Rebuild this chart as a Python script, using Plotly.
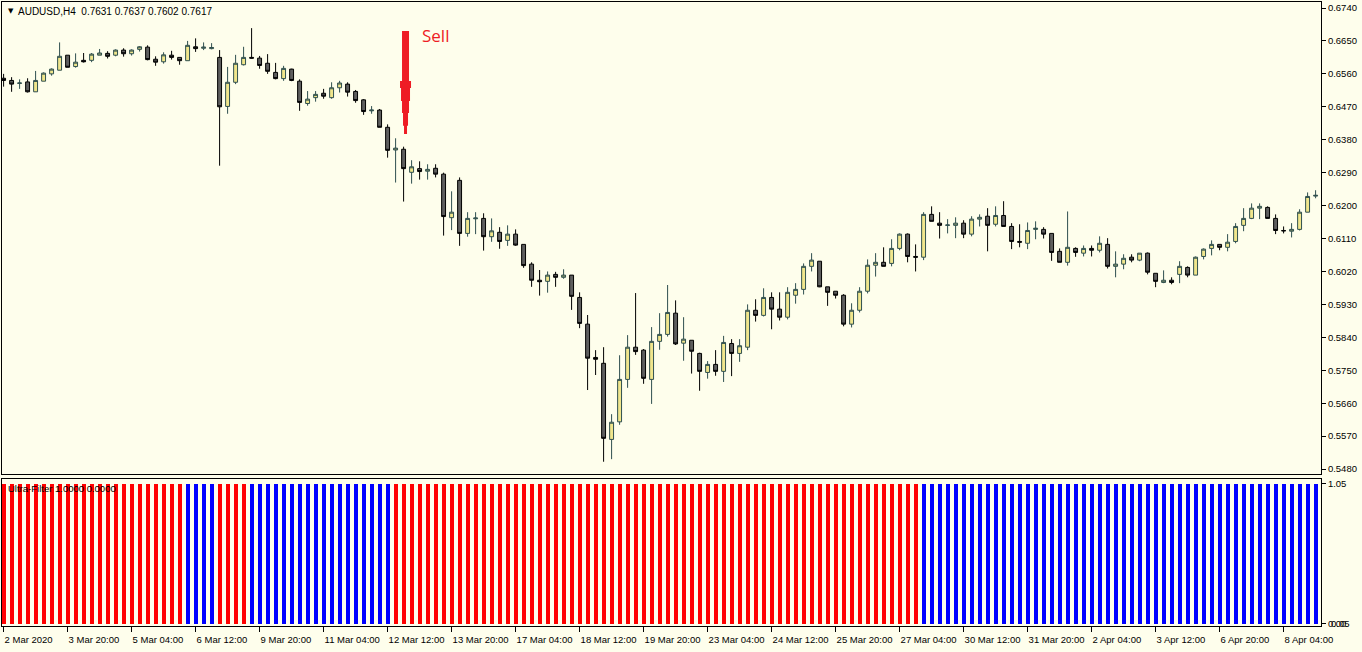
import plotly.graph_objects as go

# ---------------- data ----------------
OPEN = [0.6548, 0.6542, 0.6534, 0.6538, 0.6511, 0.6540, 0.6560, 0.6570, 0.6611, 0.6580,
        0.6597, 0.6597, 0.6611, 0.6616, 0.6611, 0.6625, 0.6615, 0.6627, 0.6633, 0.6600,
        0.6593, 0.6611, 0.6605, 0.6596, 0.6634, 0.6630, 0.6629, 0.6605, 0.6471, 0.6537,
        0.6585, 0.6605, 0.6603, 0.6589, 0.6564, 0.6547, 0.6573, 0.6540, 0.6479, 0.6495,
        0.6507, 0.6495, 0.6522, 0.6532, 0.6512, 0.6489, 0.6459, 0.6461, 0.6414, 0.6352,
        0.6354, 0.6291, 0.6301, 0.6294, 0.6302, 0.6286, 0.6167, 0.6269, 0.6124, 0.6164,
        0.6165, 0.6115, 0.6127, 0.6105, 0.6122, 0.6094, 0.6040, 0.5996, 0.5993, 0.6012,
        0.6004, 0.6010, 0.5949, 0.5876, 0.5785, 0.5769, 0.5561, 0.5609, 0.5725, 0.5813,
        0.5805, 0.5725, 0.5829, 0.5848, 0.5906, 0.5824, 0.5832, 0.5796, 0.5744, 0.5766,
        0.5747, 0.5823, 0.5796, 0.5813, 0.5914, 0.5900, 0.5949, 0.5917, 0.5895, 0.5955,
        0.5971, 0.6034, 0.6048, 0.5978, 0.5966, 0.5955, 0.5876, 0.5914, 0.5966, 0.6037,
        0.6045, 0.6042, 0.6083, 0.6122, 0.6061, 0.6059, 0.6176, 0.6152, 0.6146, 0.6146,
        0.6152, 0.6122, 0.6163, 0.6171, 0.6149, 0.6173, 0.6143, 0.6102, 0.6097, 0.6135,
        0.6135, 0.6124, 0.6075, 0.6045, 0.6083, 0.6070, 0.6083, 0.6078, 0.6094, 0.6034,
        0.6040, 0.6059, 0.6051, 0.6070, 0.6015, 0.5990, 0.5996, 0.6012, 0.6031, 0.6010,
        0.6061, 0.6083, 0.6094, 0.6086, 0.6102, 0.6146, 0.6165, 0.6193, 0.6195, 0.6165,
        0.6132, 0.6130, 0.6135, 0.6182, 0.6226]
HIGH = [0.6560, 0.6551, 0.6545, 0.6548, 0.6568, 0.6564, 0.6575, 0.6646, 0.6611, 0.6616,
        0.6617, 0.6617, 0.6628, 0.6622, 0.6627, 0.6630, 0.6627, 0.6636, 0.6638, 0.6608,
        0.6619, 0.6623, 0.6605, 0.6650, 0.6657, 0.6646, 0.6644, 0.6625, 0.6579, 0.6612,
        0.6634, 0.6685, 0.6609, 0.6614, 0.6590, 0.6582, 0.6574, 0.6545, 0.6513, 0.6513,
        0.6519, 0.6537, 0.6541, 0.6537, 0.6516, 0.6491, 0.6472, 0.6464, 0.6422, 0.6384,
        0.6361, 0.6324, 0.6321, 0.6313, 0.6313, 0.6290, 0.6239, 0.6277, 0.6182, 0.6182,
        0.6179, 0.6165, 0.6141, 0.6146, 0.6135, 0.6094, 0.6045, 0.6024, 0.6020, 0.6019,
        0.6026, 0.6010, 0.5963, 0.5901, 0.5805, 0.5813, 0.5630, 0.5791, 0.5846, 0.5961,
        0.5808, 0.5868, 0.5906, 0.5983, 0.5941, 0.5895, 0.5832, 0.5798, 0.5775, 0.5805,
        0.5844, 0.5835, 0.5835, 0.5930, 0.5944, 0.5974, 0.5963, 0.5963, 0.5977, 0.5988,
        0.6042, 0.6070, 0.6048, 0.5978, 0.5966, 0.5958, 0.5933, 0.5977, 0.6053, 0.6070,
        0.6086, 0.6108, 0.6124, 0.6124, 0.6094, 0.6182, 0.6198, 0.6182, 0.6163, 0.6168,
        0.6160, 0.6171, 0.6176, 0.6193, 0.6198, 0.6212, 0.6152, 0.6149, 0.6154, 0.6157,
        0.6141, 0.6124, 0.6083, 0.6184, 0.6086, 0.6091, 0.6091, 0.6116, 0.6111, 0.6075,
        0.6067, 0.6067, 0.6070, 0.6072, 0.6015, 0.6023, 0.6004, 0.6048, 0.6034, 0.6061,
        0.6083, 0.6105, 0.6094, 0.6122, 0.6152, 0.6193, 0.6206, 0.6206, 0.6198, 0.6176,
        0.6143, 0.6152, 0.6190, 0.6236, 0.6242]
LOW = [0.6525, 0.6511, 0.6519, 0.6509, 0.6511, 0.6540, 0.6555, 0.6570, 0.6578, 0.6577,
       0.6591, 0.6592, 0.6611, 0.6602, 0.6608, 0.6607, 0.6610, 0.6621, 0.6597, 0.6582,
       0.6588, 0.6599, 0.6585, 0.6596, 0.6620, 0.6625, 0.6627, 0.6309, 0.6451, 0.6532,
       0.6583, 0.6602, 0.6574, 0.6560, 0.6545, 0.6541, 0.6540, 0.6459, 0.6473, 0.6484,
       0.6492, 0.6492, 0.6509, 0.6498, 0.6481, 0.6448, 0.6451, 0.6414, 0.6331, 0.6263,
       0.6211, 0.6260, 0.6271, 0.6271, 0.6277, 0.6118, 0.6133, 0.6090, 0.6115, 0.6122,
       0.6077, 0.6101, 0.6082, 0.6090, 0.6090, 0.6030, 0.5978, 0.5954, 0.5962, 0.5978,
       0.6000, 0.5915, 0.5865, 0.5696, 0.5737, 0.5500, 0.5507, 0.5601, 0.5702, 0.5792,
       0.5713, 0.5658, 0.5806, 0.5842, 0.5819, 0.5776, 0.5741, 0.5694, 0.5727, 0.5735,
       0.5718, 0.5734, 0.5773, 0.5805, 0.5883, 0.5897, 0.5862, 0.5886, 0.5889, 0.5932,
       0.5957, 0.6020, 0.5977, 0.5926, 0.5946, 0.5870, 0.5867, 0.5908, 0.5960, 0.6006,
       0.6034, 0.6034, 0.6078, 0.6045, 0.6020, 0.6051, 0.6157, 0.6110, 0.6124, 0.6111,
       0.6111, 0.6116, 0.6143, 0.6075, 0.6143, 0.6143, 0.6081, 0.6086, 0.6081, 0.6108,
       0.6110, 0.6049, 0.6045, 0.6036, 0.6060, 0.6061, 0.6061, 0.6072, 0.6028, 0.6004,
       0.6026, 0.6045, 0.6048, 0.6012, 0.5977, 0.5988, 0.5985, 0.5988, 0.6004, 0.6010,
       0.6053, 0.6064, 0.6078, 0.6075, 0.6097, 0.6130, 0.6163, 0.6163, 0.6165, 0.6122,
       0.6124, 0.6113, 0.6132, 0.6182, 0.6220]
CLOSE = [0.6542, 0.6532, 0.6535, 0.6511, 0.6542, 0.6562, 0.6573, 0.6608, 0.6578, 0.6592,
         0.6593, 0.6614, 0.6617, 0.6608, 0.6625, 0.6615, 0.6625, 0.6634, 0.6599, 0.6592,
         0.6612, 0.6605, 0.6596, 0.6638, 0.6629, 0.6633, 0.6632, 0.6470, 0.6537, 0.6589,
         0.6605, 0.6603, 0.6583, 0.6567, 0.6547, 0.6575, 0.6542, 0.6482, 0.6491, 0.6504,
         0.6499, 0.6522, 0.6535, 0.6510, 0.6487, 0.6457, 0.6461, 0.6414, 0.6351, 0.6357,
         0.6301, 0.6306, 0.6293, 0.6299, 0.6286, 0.6170, 0.6182, 0.6124, 0.6165, 0.6166,
         0.6115, 0.6131, 0.6102, 0.6122, 0.6092, 0.6036, 0.5996, 0.5992, 0.6010, 0.6004,
         0.6010, 0.5952, 0.5878, 0.5783, 0.5780, 0.5564, 0.5608, 0.5725, 0.5813, 0.5801,
         0.5728, 0.5829, 0.5848, 0.5908, 0.5822, 0.5835, 0.5802, 0.5747, 0.5766, 0.5747,
         0.5826, 0.5796, 0.5817, 0.5914, 0.5900, 0.5949, 0.5917, 0.5895, 0.5963, 0.5971,
         0.6034, 0.6051, 0.5978, 0.5963, 0.5955, 0.5876, 0.5914, 0.5966, 0.6037, 0.6045,
         0.6034, 0.6083, 0.6122, 0.6061, 0.6059, 0.6176, 0.6157, 0.6146, 0.6147, 0.6152,
         0.6122, 0.6163, 0.6168, 0.6146, 0.6173, 0.6143, 0.6102, 0.6100, 0.6132, 0.6138,
         0.6122, 0.6072, 0.6045, 0.6086, 0.6072, 0.6083, 0.6078, 0.6097, 0.6034, 0.6040,
         0.6056, 0.6051, 0.6070, 0.6018, 0.5993, 0.5996, 0.5990, 0.6034, 0.6010, 0.6059,
         0.6081, 0.6094, 0.6086, 0.6100, 0.6143, 0.6165, 0.6193, 0.6198, 0.6165, 0.6132,
         0.6131, 0.6135, 0.6182, 0.6225, 0.6228]

# Ultra-Filter state per bar: 1 = sell (red), 0 = buy (blue)
FILTER_STATE = [1, 1, 1, 1, 1, 1, 1, 1, 1, 1, 1, 1, 1, 1, 1, 1, 1, 1, 1, 1,
                1, 1, 1, 0, 0, 0, 0, 1, 1, 1, 1, 0, 0, 0, 0, 0, 0, 0, 0, 0,
                0, 0, 0, 0, 0, 0, 0, 0, 0, 1, 1, 1, 1, 1, 1, 1, 1, 1, 1, 1,
                1, 1, 1, 1, 1, 1, 1, 1, 1, 1, 1, 1, 1, 1, 1, 1, 1, 1, 1, 1,
                1, 1, 1, 1, 1, 1, 1, 1, 1, 1, 1, 1, 1, 1, 1, 1, 1, 1, 1, 1,
                1, 1, 1, 1, 1, 1, 1, 1, 1, 1, 1, 1, 1, 1, 1, 0, 0, 0, 0, 0,
                0, 0, 0, 0, 0, 0, 0, 0, 0, 0, 0, 0, 0, 0, 0, 0, 0, 0, 0, 0,
                0, 0, 0, 0, 0, 0, 0, 0, 0, 0, 0, 0, 0, 0, 0, 0, 0, 0, 0, 0,
                0, 0, 0, 0, 0]

TICK_BARS = [0, 8, 16, 24, 32, 40, 48, 56, 64, 72, 80, 88, 96, 104, 112, 120, 128,
             136, 144, 152, 160]
TICK_LABELS = ["2 Mar 2020", "3 Mar 20:00", "5 Mar 04:00", "6 Mar 12:00", "9 Mar 20:00",
               "11 Mar 04:00", "12 Mar 12:00", "13 Mar 20:00", "17 Mar 04:00",
               "18 Mar 12:00", "19 Mar 20:00", "23 Mar 04:00", "24 Mar 12:00",
               "25 Mar 20:00", "27 Mar 04:00", "30 Mar 12:00", "31 Mar 20:00",
               "2 Apr 04:00", "3 Apr 12:00", "6 Apr 20:00", "8 Apr 04:00"]
PRICE_TICKS = [0.6740, 0.6650, 0.6560, 0.6470, 0.6380, 0.6290, 0.6200, 0.6110, 0.6020,
               0.5930, 0.5840, 0.5750, 0.5660, 0.5570, 0.5480]

SELL_BAR = 50
SELL_TOP = 0.6677
SELL_TIP = 0.6396

# ---------------- style ----------------
BG = "#FEFEEC"
FONT = "Liberation Sans, Arial, sans-serif"
BULL_FILL, BULL_LINE = "#F0E68C", "#2F4F4F"
BEAR_FILL, BEAR_LINE = "#5E5E5E", "#000000"

bars = list(range(len(OPEN)))

fig = go.Figure()
fig.add_trace(go.Candlestick(
    x=bars, open=OPEN, high=HIGH, low=LOW, close=CLOSE,
    increasing=dict(fillcolor=BULL_FILL, line=dict(color=BULL_LINE, width=1)),
    decreasing=dict(fillcolor=BEAR_FILL, line=dict(color=BEAR_LINE, width=1)),
    whiskerwidth=0, xaxis="x", yaxis="y", showlegend=False, hoverinfo="skip"))

fig.add_trace(go.Bar(
    x=bars, y=[1] * len(bars), width=0.5,
    marker=dict(color=["#FF0000" if s else "#0000FF" for s in FILTER_STATE], line=dict(width=0)),
    xaxis="x2", yaxis="y2", showlegend=False, hoverinfo="skip"))

# ---------------- sell arrow (tapered, pointing down at the signal bar) ----------------
profile = [(0.000, 3.5), (0.485, 5.5), (0.553, 4.5), (0.680, 3.5), (0.796, 2.5), (0.922, 1.5), (1.0, None)]
cx = SELL_BAR + 0.24
span = SELL_TOP - SELL_TIP
right, left = [], []
for k in range(len(profile) - 1):
    f0, hw = profile[k]
    f1 = profile[k + 1][0]
    y0, y1 = SELL_TOP - f0 * span, SELL_TOP - f1 * span
    right += [(cx + hw / 8, y0), (cx + hw / 8, y1)]
    left += [(cx - hw / 8, y0), (cx - hw / 8, y1)]
pts = right + left[::-1]
path = "M " + " L ".join(f"{x:.4f},{y:.5f}" for x, y in pts) + " Z"
fig.add_shape(type="path", path=path, xref="x", yref="y",
              fillcolor="#EE1C25", line=dict(width=0), layer="above")

fig.add_annotation(x=SELL_BAR + 2.05, y=SELL_TOP - 0.0012, xref="x", yref="y", text="Sell",
                   showarrow=False, xanchor="left", yanchor="middle",
                   font=dict(family="Open Sans, Liberation Sans, sans-serif", size=17, color="#EE1C25"))

# header texts
fig.add_annotation(x=0, y=1, xref="paper", yref="paper", text="▼", showarrow=False,
                   xanchor="left", yanchor="middle", xshift=4, yshift=-9,
                   font=dict(family="DejaVu Sans", size=7, color="#000000"))
fig.add_annotation(x=0, y=1, xref="paper", yref="paper",
                   text="AUDUSD,H4  0.7631 0.7637 0.7602 0.7617", showarrow=False,
                   xanchor="left", yanchor="middle", xshift=14, yshift=-9,
                   font=dict(family=FONT, size=10, color="#000000"))

MAIN_DOM = [0.2436, 1.0]
IND_DOM = [0.0, 0.2356]

fig.add_annotation(x=0, y=IND_DOM[1], xref="paper", yref="paper",
                   text="Ultra-Filter 1.0000 0.0000", showarrow=False,
                   xanchor="left", yanchor="top", xshift=4, yshift=-2,
                   font=dict(family=FONT, size=9.5, color="#000000"))
fig.add_annotation(x=1, y=0, xref="paper", yref="y2", text="0.05", showarrow=False,
                   xanchor="left", yanchor="middle", xshift=8,
                   font=dict(family=FONT, size=9.5, color="#000000"))

axis_common = dict(showline=True, linecolor="#000000", linewidth=1, mirror=True,
                   showgrid=False, zeroline=False, automargin=False)

fig.update_layout(
    width=1362, height=652,
    margin=dict(l=2, r=41, t=2, b=26, autoexpand=False),
    paper_bgcolor=BG, plot_bgcolor=BG,
    font=dict(family=FONT, size=9.5, color="#000000"),
    showlegend=False, bargap=0,
    xaxis=dict(domain=[0, 1], anchor="y", range=[-0.2, 164.675], showticklabels=False,
               ticks="", rangeslider=dict(visible=False), **axis_common),
    yaxis=dict(domain=MAIN_DOM, anchor="x", side="right", range=[0.54665, 0.67564],
               tickvals=PRICE_TICKS, ticktext=[f"{v:.4f}" for v in PRICE_TICKS],
               ticks="outside", ticklen=4, tickcolor="#000000", **axis_common),
    xaxis2=dict(domain=[0, 1], anchor="y2", matches="x", range=[-0.2, 164.675],
                tickvals=TICK_BARS, ticktext=TICK_LABELS, ticks="outside", ticklen=5,
                tickangle=0, tickcolor="#000000", ticklabelposition="outside right",
                ticklabelstandoff=5, **axis_common),
    yaxis2=dict(domain=IND_DOM, anchor="x2", side="right", range=[-0.0143, 1.0357],
                tickvals=[0, 1], ticktext=["0.00", "1.05"], ticks="outside", ticklen=4,
                tickcolor="#000000", **axis_common),
)

# the page itself should not add the browser's default 8px body margin
fig.write_html("out.html", include_plotlyjs=True, config={"displayModeBar": False},
               post_script=("document.body.style.margin='0';"
                            "document.body.style.background='" + BG + "';"))
